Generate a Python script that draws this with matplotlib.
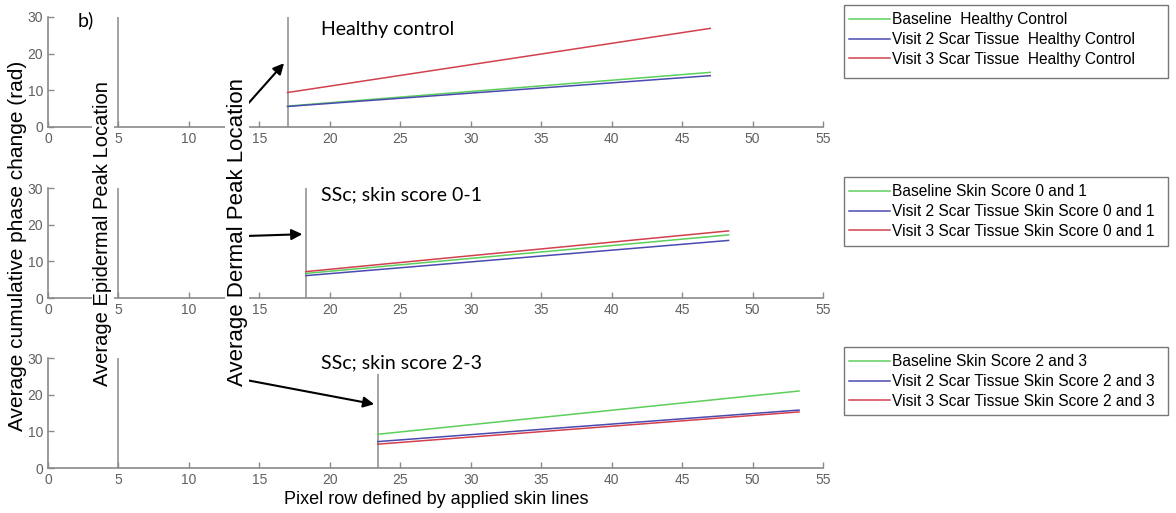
import matplotlib
matplotlib.use("Agg")
import matplotlib.pyplot as plt
from matplotlib.patches import Rectangle

plt.rcParams['font.family'] = ['Liberation Sans', 'DejaVu Sans']

# pixel rows (x) and fitted cumulative phase (rad) for each group
hc_x = [17, 47]
hc_baseline = [5.7, 14.9]
hc_visit2 = [5.6, 14.0]
hc_visit3 = [9.4, 26.9]

s01_x = [18.3, 48.3]
s01_baseline = [6.7, 17.2]
s01_visit2 = [6.1, 15.7]
s01_visit3 = [7.2, 18.3]

s23_x = [23.4, 53.3]
s23_baseline = [9.2, 21.0]
s23_visit2 = [7.2, 15.8]
s23_visit3 = [6.5, 15.3]

epidermal_peak = 5
dermal_peaks = [17, 18.3, 23.4]

titles = ["Healthy control", "SSc; skin score 0-1", "SSc; skin score 2-3"]
legend_labels = [
    ["Baseline  Healthy Control", "Visit 2 Scar Tissue  Healthy Control",
     "Visit 3 Scar Tissue  Healthy Control"],
    ["Baseline Skin Score 0 and 1", "Visit 2 Scar Tissue Skin Score 0 and 1",
     "Visit 3 Scar Tissue Skin Score 0 and 1"],
    ["Baseline Skin Score 2 and 3", "Visit 2 Scar Tissue Skin Score 2 and 3",
     "Visit 3 Scar Tissue Skin Score 2 and 3"],
]

green = '#5ccf5c'
blue = '#4a4ab0'
red = '#d2404e'
axcol = '#8a8a8a'

W, H = 1176, 513
fig = plt.figure(figsize=(W / 100, H / 100), dpi=100)

panels = [
    (hc_x, hc_baseline, hc_visit2, hc_visit3),
    (s01_x, s01_baseline, s01_visit2, s01_visit3),
    (s23_x, s23_baseline, s23_visit2, s23_visit3),
]
bottoms = [127, 298, 468]      # pixel row of y=0 for each panel
legend_boxes = [(5, 78), (177, 246), (347, 415)]   # top/bottom pixel rows
title_rows = [30, 195, 363]
tails = [106, 236, 380]

for i, (x, yb, y2, y3) in enumerate(panels):
    ax = fig.add_axes([48 / W, 1 - bottoms[i] / H, 775 / W, 110 / H])
    ax.set_xlim(0, 55)
    ax.set_ylim(0, 30)
    ax.set_xticks(range(0, 56, 5))
    ax.set_yticks([0, 10, 20, 30])
    for s in ['top', 'right']:
        ax.spines[s].set_visible(False)
    for s in ['left', 'bottom']:
        ax.spines[s].set_color(axcol)
        ax.spines[s].set_linewidth(1.2)
    ax.tick_params(direction='in', length=4, width=1, color=axcol,
                   labelcolor='#606060', labelsize=10)
    ax.patch.set_alpha(0)

    ax.plot([epidermal_peak] * 2, [0, 30], color=axcol, lw=1.1)
    ax.plot([dermal_peaks[i]] * 2, [0, 30], color=axcol, lw=1.1)

    names = legend_labels[i]
    l1, = ax.plot(x, yb, color=green, lw=1.1, label=names[0])
    l2, = ax.plot(x, y2, color=blue, lw=1.1, label=names[1])
    l3, = ax.plot(x, y3, color=red, lw=1.1, label=names[2])

    ax.text(321 / W, 1 - title_rows[i] / H, titles[i], transform=fig.transFigure,
            fontsize=14, family='Lato', va='center', ha='left', zorder=5,
            bbox=dict(facecolor='white', edgecolor='none', pad=2))

    # legend box drawn separately so it keeps a fixed width
    top, bot = legend_boxes[i]
    fig.add_artist(Rectangle((844 / W, 1 - bot / H), 324 / W, (bot - top) / H,
                             transform=fig.transFigure, facecolor='none',
                             edgecolor='#777777', lw=1.0))
    ax.legend(handles=[l1, l2, l3], loc='upper left',
              bbox_to_anchor=(844 / W, 1 - (top + 2) / H),
              bbox_transform=fig.transFigure, borderaxespad=0,
              frameon=False, fontsize=11.2,
              handlelength=2.6, handletextpad=0.15, labelspacing=0.3,
              borderpad=0.35)

    # arrow to the average dermal peak line
    ax.annotate('', xy=(dermal_peaks[i] - 0.25, 17.4), xycoords='data',
                xytext=(246 / W, 1 - tails[i] / H), textcoords='figure fraction',
                arrowprops=dict(arrowstyle='-|>', color='black', lw=1.5,
                                mutation_scale=16, shrinkA=0, shrinkB=0))

fig.text(78 / W, 1 - 20 / H, "b)", fontsize=14, family='Lato', va='center')

fig.text(103 / W, 1 - 234 / H, "Average Epidermal Peak Location", rotation=90,
         fontsize=14.5, ha='center', va='center', zorder=6,
         bbox=dict(facecolor='white', edgecolor='none', pad=1))
fig.text(237 / W, 1 - 232 / H, "Average Dermal Peak Location", rotation=90,
         fontsize=16, ha='center', va='center', zorder=6,
         bbox=dict(facecolor='white', edgecolor='none', pad=1))

fig.text(18 / W, 1 - 246 / H, "Average cumulative phase change (rad)",
         rotation=90, fontsize=15, ha='center', va='center')
fig.text(436 / W, 1 - 500 / H, "Pixel row defined by applied skin lines",
         fontsize=13, ha='center', va='center')

fig.savefig("out.png", dpi=100, facecolor='white')
